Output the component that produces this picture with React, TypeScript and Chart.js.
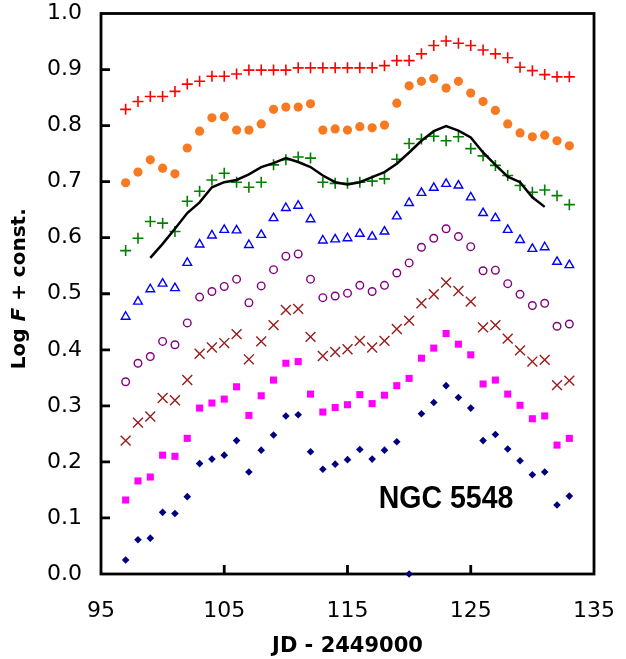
import React, { useEffect, useRef } from "react";
import { Chart, registerables } from "chart.js";
Chart.register(...registerables);

const days = [97, 98, 99, 100, 101, 102, 103, 104, 105, 106, 107, 108, 109, 110, 111, 112, 113, 114, 115, 116, 117, 118, 119, 120, 121, 122, 123, 124, 125, 126, 127, 128, 129, 130, 131, 132, 133];

const redPlus = [0.829, 0.843, 0.852, 0.852, 0.861, 0.874, 0.879, 0.888, 0.888, 0.892, 0.899, 0.899, 0.899, 0.899, 0.903, 0.903, 0.903, 0.903, 0.903, 0.903, 0.903, 0.907, 0.916, 0.916, 0.928, 0.943, 0.951, 0.947, 0.943, 0.935, 0.928, 0.921, 0.904, 0.898, 0.891, 0.887, 0.887];
const orangeDots = [0.698, 0.717, 0.739, 0.724, 0.714, 0.760, 0.790, 0.814, 0.816, 0.792, 0.792, 0.803, 0.829, 0.833, 0.833, 0.839, 0.792, 0.794, 0.792, 0.798, 0.796, 0.801, 0.840, 0.871, 0.879, 0.884, 0.867, 0.879, 0.858, 0.843, 0.827, 0.803, 0.787, 0.780, 0.783, 0.773, 0.764];
const greenPlus = [0.577, 0.599, 0.629, 0.626, 0.611, 0.665, 0.683, 0.703, 0.715, 0.699, 0.690, 0.699, 0.730, 0.739, 0.744, 0.742, 0.699, 0.697, 0.697, 0.699, 0.701, 0.705, 0.740, 0.768, 0.776, 0.781, 0.773, 0.780, 0.759, 0.746, 0.729, 0.711, 0.693, 0.681, 0.685, 0.675, 0.659];
const lineDays = [99, 100, 101, 102, 103, 104, 105, 106, 107, 108, 109, 110, 111, 112, 113, 114, 115, 116, 117, 118, 119, 120, 121, 122, 123, 124, 125, 126, 127, 128, 129, 130, 131];
const blackLine = [0.564, 0.589, 0.616, 0.644, 0.663, 0.690, 0.699, 0.703, 0.713, 0.726, 0.733, 0.742, 0.735, 0.726, 0.711, 0.699, 0.695, 0.699, 0.708, 0.717, 0.732, 0.752, 0.773, 0.790, 0.799, 0.791, 0.779, 0.752, 0.730, 0.709, 0.699, 0.672, 0.655];
const blueTri = [0.459, 0.486, 0.508, 0.518, 0.510, 0.555, 0.588, 0.604, 0.614, 0.613, 0.587, 0.605, 0.635, 0.653, 0.657, 0.633, 0.595, 0.597, 0.599, 0.607, 0.602, 0.611, 0.638, 0.662, 0.680, 0.689, 0.696, 0.693, 0.672, 0.644, 0.635, 0.614, 0.596, 0.580, 0.583, 0.557, 0.551];
const purpleRing = [0.343, 0.376, 0.388, 0.415, 0.409, 0.448, 0.494, 0.504, 0.513, 0.526, 0.484, 0.514, 0.543, 0.567, 0.571, 0.526, 0.493, 0.496, 0.501, 0.515, 0.504, 0.515, 0.537, 0.555, 0.583, 0.599, 0.616, 0.602, 0.584, 0.541, 0.542, 0.518, 0.499, 0.479, 0.483, 0.442, 0.446];
const brownX = [0.238, 0.270, 0.281, 0.314, 0.310, 0.346, 0.393, 0.404, 0.412, 0.428, 0.383, 0.415, 0.444, 0.471, 0.473, 0.423, 0.389, 0.396, 0.401, 0.416, 0.404, 0.416, 0.437, 0.452, 0.483, 0.499, 0.520, 0.505, 0.486, 0.440, 0.444, 0.420, 0.399, 0.379, 0.382, 0.337, 0.345];
const magentaSq = [0.132, 0.166, 0.173, 0.212, 0.210, 0.242, 0.296, 0.305, 0.312, 0.334, 0.283, 0.318, 0.346, 0.376, 0.379, 0.321, 0.289, 0.297, 0.302, 0.320, 0.304, 0.319, 0.336, 0.349, 0.385, 0.403, 0.429, 0.410, 0.391, 0.339, 0.346, 0.321, 0.301, 0.277, 0.282, 0.230, 0.242];
const navyDia = [0.025, 0.061, 0.064, 0.110, 0.108, 0.138, 0.197, 0.205, 0.212, 0.238, 0.182, 0.221, 0.248, 0.282, 0.284, 0.218, 0.187, 0.196, 0.204, 0.222, 0.205, 0.221, 0.236, 0.000, 0.286, 0.306, 0.336, 0.315, 0.296, 0.238, 0.249, 0.223, 0.202, 0.177, 0.182, 0.123, 0.139];

const xTicksInner = [105, 115, 125];
const yTicksInner = [0.1, 0.2, 0.3, 0.4, 0.5, 0.6, 0.7, 0.8, 0.9];
const objectLabel = "NGC 5548";
const xTitle = "JD - 2449000";

const pts = (xs: number[], ys: number[]) => xs.map((x, i) => ({ x, y: ys[i] }));

const framePlugin = {
  id: "frame",
  beforeDatasetsDraw(chart: any) {
    const { ctx, chartArea: a, scales } = chart;
    ctx.save();
    ctx.strokeStyle = "#000";
    ctx.lineWidth = 2.8;
    ctx.strokeRect(a.left, a.top, a.right - a.left, a.bottom - a.top);
    ctx.beginPath();
    for (const v of yTicksInner) {
      const y = scales.y.getPixelForValue(v);
      ctx.moveTo(a.left, y);
      ctx.lineTo(a.left + 9, y);
    }
    for (const v of xTicksInner) {
      const x = scales.x.getPixelForValue(v);
      ctx.moveTo(x, a.bottom);
      ctx.lineTo(x, a.bottom - 9);
    }
    ctx.stroke();
    ctx.restore();
  },
};

const textPlugin = {
  id: "texts",
  afterDraw(chart: any) {
    const { ctx, chartArea: a } = chart;
    ctx.save();
    ctx.fillStyle = "#000";
    ctx.translate(20, (a.top + a.bottom) / 2 - 5);
    ctx.rotate(-Math.PI / 2);
    ctx.textBaseline = "middle";
    ctx.textAlign = "left";
    const parts: [string, string][] = [
      ["Log ", 'bold 20px "DejaVu Sans"'],
      ["F", 'italic bold 20px "DejaVu Sans"'],
      [" + const.", 'bold 20px "DejaVu Sans"'],
    ];
    let total = 0;
    for (const [t, f] of parts) {
      ctx.font = f;
      total += ctx.measureText(t).width;
    }
    let x = -total / 2;
    for (const [t, f] of parts) {
      ctx.font = f;
      ctx.fillText(t, x, 0);
      x += ctx.measureText(t).width;
    }
    ctx.restore();

    ctx.save();
    ctx.fillStyle = "#000";
    ctx.font = 'bold 31px "Liberation Sans", Arial, sans-serif';
    ctx.textAlign = "center";
    ctx.textBaseline = "alphabetic";
    ctx.translate(446, 508);
    ctx.scale(0.92, 1);
    ctx.fillText(objectLabel, 0, 0);
    ctx.restore();
  },
};

export default function App() {
  const ref = useRef<HTMLCanvasElement>(null);
  useEffect(() => {
    if (!ref.current) return;
    const hollow = "rgba(0,0,0,0)";
    const chart = new Chart(ref.current, {
      type: "scatter",
      data: {
        datasets: [
          { label: "line", type: "line", data: pts(lineDays, blackLine), borderColor: "#000", borderWidth: 2.5, pointRadius: 0, showLine: true, fill: false, tension: 0, clip: false } as any,
          { label: "red", data: pts(days, redPlus), pointStyle: "cross", pointRadius: 5.5, borderColor: "#FF0000", backgroundColor: "#FF0000", borderWidth: 1.6, clip: false } as any,
          { label: "orange", data: pts(days, orangeDots), pointStyle: "circle", pointRadius: 4.6, borderColor: "#F77A22", backgroundColor: "#F77A22", borderWidth: 0, clip: false } as any,
          { label: "green", data: pts(days, greenPlus), pointStyle: "cross", pointRadius: 5.5, borderColor: "#008000", backgroundColor: "#008000", borderWidth: 1.6, clip: false } as any,
          { label: "blue", data: pts(days, blueTri), pointStyle: "triangle", pointRadius: 5, borderColor: "#0000FF", backgroundColor: hollow, borderWidth: 1.4, clip: false } as any,
          { label: "purple", data: pts(days, purpleRing), pointStyle: "circle", pointRadius: 3.8, borderColor: "#800080", backgroundColor: hollow, borderWidth: 1.4, clip: false } as any,
          { label: "brown", data: pts(days, brownX), pointStyle: "crossRot", pointRadius: 7, borderColor: "#991B1B", backgroundColor: "#991B1B", borderWidth: 1.4, clip: false } as any,
          { label: "magenta", data: pts(days, magentaSq), pointStyle: "rect", pointRadius: 5, borderColor: "#FF00FF", backgroundColor: "#FF00FF", borderWidth: 0, clip: false } as any,
          { label: "navy", data: pts(days, navyDia), pointStyle: "rectRot", pointRadius: 3.8, borderColor: "#000080", backgroundColor: "#000080", borderWidth: 0, clip: false } as any,
        ],
      },
      options: {
        responsive: false,
        animation: false,
        events: [],
        layout: { padding: { left: 0, top: 13.5, right: 32, bottom: 0 } },
        plugins: { legend: { display: false }, tooltip: { enabled: false } },
        scales: {
          x: {
            type: "linear",
            min: 95,
            max: 135,
            afterFit: (s: any) => {
              s.height = 85;
              s.paddingLeft = 0;
              s.paddingRight = 0;
              s.paddingTop = 0;
              s.paddingBottom = 0;
            },
            grid: { display: false, drawTicks: false },
            border: { display: false },
            ticks: {
              stepSize: 10,
              padding: 24,
              color: "#000",
              font: { family: '"DejaVu Sans"', size: 22 },
              callback: (v: any) => String(v),
            },
            title: {
              display: true,
              text: xTitle,
              color: "#000",
              font: { family: '"DejaVu Sans"', size: 21, weight: "bold" },
              padding: { top: 0, bottom: 0 },
            },
          },
          y: {
            type: "linear",
            min: 0,
            max: 1,
            afterFit: (s: any) => {
              s.width = 101;
              s.paddingTop = 0;
              s.paddingBottom = 0;
              s.paddingLeft = 0;
              s.paddingRight = 0;
            },
            grid: { display: false, drawTicks: false },
            border: { display: false },
            ticks: {
              stepSize: 0.1,
              padding: 19,
              color: "#000",
              font: { family: '"DejaVu Sans"', size: 22 },
              callback: (v: any) => Number(v).toFixed(1),
            },
          },
        },
      },
      plugins: [framePlugin, textPlugin],
    });
    return () => chart.destroy();
  }, []);
  return (
    <div style={{ position: "absolute", left: 0, top: 0, width: 626, height: 659 }}>
      <canvas ref={ref} width={626} height={659} style={{ display: "block" }} />
    </div>
  );
}
